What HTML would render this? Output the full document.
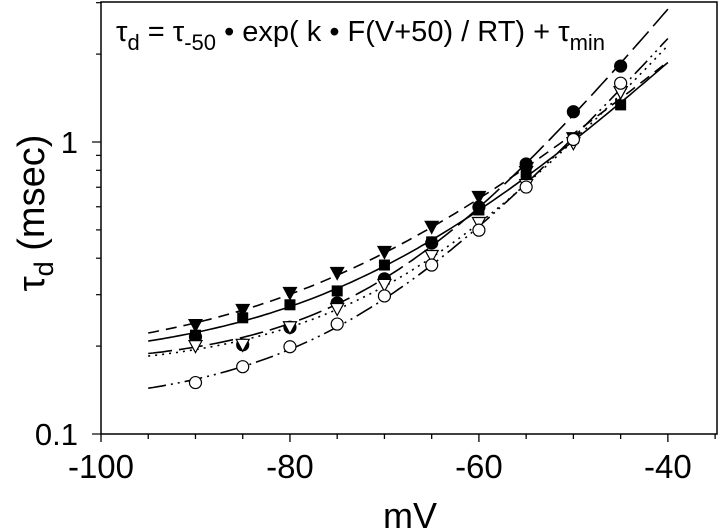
<!DOCTYPE html>
<html><head><meta charset="utf-8"><style>
body{margin:0;background:#fff;}
svg{display:block;font-family:"Liberation Sans",Arial,sans-serif;}
</style></head><body>
<svg id="chart" width="720" height="531" viewBox="0 0 720 531" xmlns="http://www.w3.org/2000/svg">
<rect x="101" y="2" width="616" height="432" fill="none" stroke="#000" stroke-width="1.5"/>
<g id="axes"></g>
<g id="curves"></g>
<g id="marks"></g>
<text x="116" y="41" font-size="29">τ<tspan font-size="22" dy="9">d</tspan><tspan dy="-9"> = τ</tspan><tspan font-size="22" dy="9">-50</tspan><tspan dy="-9"> • exp( k • F(V+50) / RT) + τ</tspan><tspan font-size="22" dy="9">min</tspan></text>
<text transform="translate(44,213) rotate(-90)" text-anchor="middle" font-size="38">τ<tspan font-size="27" dy="9">d</tspan><tspan dy="-9"> (msec)</tspan></text>
<text x="410" y="528" text-anchor="middle" font-size="36">mV</text>
</svg>
<script>
const voltages = [-90,-85,-80,-75,-70,-65,-60,-55,-50,-45];
const filledTriangle = [0.236,0.266,0.304,0.356,0.420,0.512,0.648,0.789,1.03,1.48];
const filledSquare   = [0.218,0.250,0.277,0.309,0.379,0.455,0.585,0.765,1.03,1.34];
const filledCircle   = [0.215,0.202,0.232,0.281,0.340,0.451,0.599,0.841,1.27,1.82];
const openTriangle   = [0.200,0.202,0.232,0.268,0.324,0.407,0.528,0.712,0.99,1.48];
const openCircle     = [0.150,0.170,0.199,0.238,0.297,0.379,0.499,0.701,1.02,1.59];
const xTicks = [-100,-80,-60,-40];
const yTicks = [0.1,1];
const NS="http://www.w3.org/2000/svg";
const X0=101,X1=717,Y0=434,Y1=2,XMIN=-100,XMAX=-34.8;
function xs(v){return X0+(v-XMIN)/(XMAX-XMIN)*(X1-X0);}
function ys(t){return 142-Math.log10(t)*292;}
function mk(tag,attrs,parent){const e=document.createElementNS(NS,tag);for(const k in attrs)e.setAttribute(k,attrs[k]);parent.appendChild(e);return e;}
const axes=document.getElementById('axes');
for(let v=-100;v<=-35;v+=5){
  const major=v%20===0;
  const t=mk('line',{x1:xs(v),x2:xs(v),y1:Y0,y2:Y0+(major?8:5),stroke:'#000','stroke-width':1.3},axes);
  
  
}
xTicks.forEach(v=>{
  const t=mk('text',{x:xs(v),y:478,'text-anchor':'middle','font-size':33},axes);
  t.textContent=String(v);
  
  
});
for(let d=0.1;d<=1;d*=10){for(let m=1;m<=9;m++){const val=d*m;if(ys(val)<Y1)continue;
  const major=m===1;
  const t=mk('line',{x1:X0-(major?9:5),x2:X0,y1:ys(val),y2:ys(val),stroke:'#000','stroke-width':1.2},axes);
  
  
}}
yTicks.forEach(v=>{
  const t=mk('text',{x:78,y:ys(v)+11,'text-anchor':'end','font-size':31},axes);
  t.textContent=String(v);
  
  
});
function fit(vals){
  let best=null;
  for(let b=0.01;b<=0.2;b+=0.001){
    let n=0,sx=0,sy=0,sxx=0,sxy=0;
    voltages.forEach((v,i)=>{const e=Math.exp(b*(v+50));const w=1/(vals[i]*vals[i]);n+=w;sx+=w*e;sy+=w*vals[i];sxx+=w*e*e;sxy+=w*e*vals[i];});
    const A=(n*sxy-sx*sy)/(n*sxx-sx*sx),C=(sy-A*sx)/n;
    let err=0;voltages.forEach((v,i)=>{const p=A*Math.exp(b*(v+50))+C;err+=Math.pow(Math.log(Math.max(p,1e-3))-Math.log(vals[i]),2);});
    if(!best||err<best.err)best={A,b,C,err};
  }
  return best;
}
const series=[
 {name:'filled-triangle',vals:filledTriangle,shape:'tri',fill:'#000',dash:'11,7'},
 {name:'filled-square',vals:filledSquare,shape:'sq',fill:'#000',dash:''},
 {name:'filled-circle',vals:filledCircle,shape:'circ',fill:'#000',dash:'24,7'},
 {name:'open-triangle',vals:openTriangle,shape:'tri',fill:'#fff',dash:'2,5'},
 {name:'open-circle',vals:openCircle,shape:'circ',fill:'#fff',dash:'18,5,2,5,2,5'}
];
const cg=document.getElementById('curves'),mg=document.getElementById('marks');
series.forEach(s=>{
  const f=fit(s.vals);let d='';
  for(let v=-95;v<=-39.6;v+=0.5){const t=f.A*Math.exp(f.b*(v+50))+f.C;d+=(d?'L':'M')+xs(v).toFixed(1)+','+ys(t).toFixed(1);}
  const p=mk('path',{d:d,fill:'none',stroke:'#000','stroke-width':1.6},cg);
  if(s.dash)p.setAttribute('stroke-dasharray',s.dash);
  
  
});
series.forEach(s=>{
  voltages.forEach((v,i)=>{
    const x=xs(v),y=ys(s.vals[i]);let e;
    if(s.shape==='circ')e=mk('circle',{cx:x,cy:y,r:6,fill:s.fill,stroke:'#000','stroke-width':1.2},mg);
    else if(s.shape==='sq')e=mk('rect',{x:x-5.5,y:y-5.5,width:11,height:11,fill:s.fill},mg);
    else e=mk('polygon',{points:(x-6.5)+','+(y-5.5)+' '+(x+6.5)+','+(y-5.5)+' '+x+','+(y+6.5),fill:s.fill,stroke:'#000','stroke-width':1.2},mg);
    
    
  });
});
</script>
</body></html>
